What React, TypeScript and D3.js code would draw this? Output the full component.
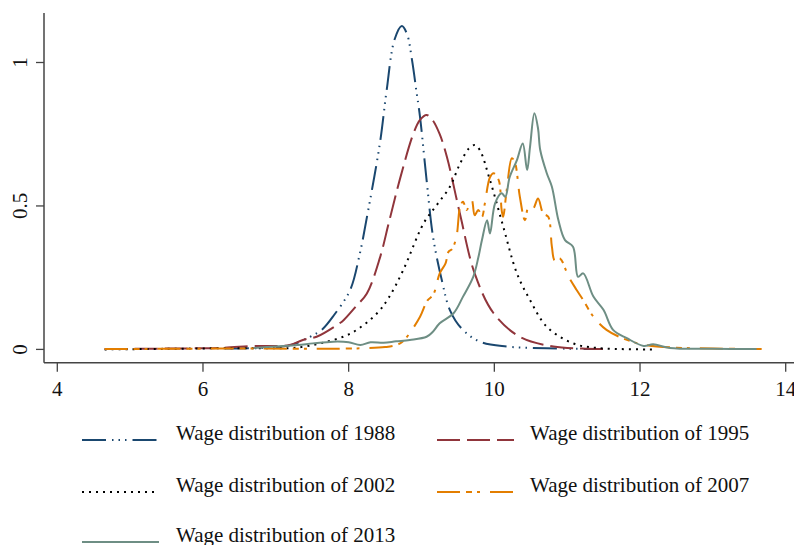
import React from "react";
import * as d3 from "d3";

type Pt = [number, number];

const xTicks = [4, 6, 8, 10, 12, 14];
const yTicks = [0, 0.5, 1];
const yTickLabels = ["0", "0.5", "1"];

const wage1988: Pt[] = [
  [6.3, 0.003], [6.9, 0.006], [7.2, 0.015], [7.47, 0.044], [7.63, 0.068], [7.8, 0.12],
  [8.02, 0.207], [8.15, 0.33], [8.25, 0.46], [8.43, 0.72], [8.52, 0.9], [8.63, 1.08],
  [8.73, 1.127], [8.8, 1.1], [8.87, 1.008], [8.93, 0.9], [8.98, 0.81], [9.07, 0.59],
  [9.16, 0.39], [9.28, 0.24], [9.39, 0.137], [9.55, 0.073], [9.8, 0.027], [10.17, 0.01],
  [10.72, 0.004], [11.45, 0.001],
];

const wage1995: Pt[] = [
  [4.65, 0.001], [5.5, 0.003], [6.2, 0.005], [6.74, 0.012], [7.0, 0.012], [7.19, 0.015],
  [7.37, 0.033], [7.56, 0.044], [7.84, 0.085], [7.93, 0.102], [8.1, 0.15], [8.25, 0.195],
  [8.43, 0.32], [8.55, 0.44], [8.7, 0.59], [8.89, 0.753], [8.98, 0.8], [9.07, 0.817],
  [9.15, 0.8], [9.25, 0.75], [9.35, 0.67], [9.53, 0.47], [9.73, 0.265], [9.99, 0.126],
  [10.35, 0.044], [10.81, 0.01], [11.2, 0.003], [11.5, 0.001],
];

const wage2002: Pt[] = [
  [4.65, 0.0], [5.5, 0.002], [6.3, 0.004], [7.0, 0.004], [7.24, 0.005], [7.61, 0.021],
  [8.03, 0.056], [8.39, 0.126], [8.55, 0.18], [8.75, 0.277], [9.03, 0.44], [9.2, 0.5],
  [9.39, 0.567], [9.53, 0.648], [9.65, 0.7], [9.73, 0.712], [9.8, 0.695], [9.94, 0.59],
  [10.12, 0.43], [10.31, 0.265], [10.49, 0.172], [10.72, 0.079], [11.08, 0.021],
  [11.41, 0.005], [12.23, 0.0],
];

const wage2007: Pt[] = [
  [4.65, 0.001], [5.5, 0.002], [6.5, 0.003], [7.5, 0.002], [8.0, 0.003], [8.2, 0.004],
  [8.5, 0.008], [8.7, 0.02], [8.8, 0.044], [8.98, 0.114], [9.08, 0.17], [9.16, 0.19],
  [9.25, 0.265], [9.33, 0.3], [9.37, 0.34], [9.42, 0.35], [9.48, 0.393], [9.53, 0.497],
  [9.57, 0.515], [9.62, 0.486],
  [9.69, 0.52], [9.73, 0.468], [9.78, 0.486], [9.83, 0.462], [9.87, 0.509], [9.94, 0.6],
  [9.99, 0.614], [10.06, 0.59], [10.1, 0.486], [10.12, 0.462], [10.17, 0.555], [10.24, 0.666],
  [10.28, 0.654], [10.35, 0.532], [10.42, 0.45], [10.47, 0.497], [10.53, 0.49], [10.6, 0.526],
  [10.67, 0.474], [10.74, 0.462], [10.79, 0.358], [10.83, 0.31], [10.9, 0.317], [11.02, 0.253],
  [11.13, 0.207], [11.22, 0.172], [11.36, 0.114], [11.54, 0.068], [11.82, 0.033], [12.09, 0.015],
  [12.5, 0.006], [13.0, 0.003], [13.67, 0.001],
];

const wage2013: Pt[] = [
  [6.7, 0.005], [7.0, 0.01], [7.3, 0.015], [7.51, 0.021], [7.79, 0.027], [8.0, 0.025],
  [8.16, 0.015], [8.3, 0.025], [8.48, 0.023], [8.65, 0.028], [8.84, 0.033], [9.07, 0.044],
  [9.15, 0.06], [9.25, 0.091], [9.44, 0.126], [9.57, 0.184], [9.71, 0.253], [9.78, 0.32],
  [9.83, 0.381], [9.9, 0.45], [9.94, 0.404], [10.01, 0.509], [10.1, 0.544], [10.15, 0.532],
  [10.21, 0.6], [10.31, 0.66], [10.39, 0.718], [10.45, 0.625], [10.49, 0.706], [10.55, 0.823],
  [10.6, 0.77], [10.63, 0.695], [10.72, 0.614], [10.79, 0.567], [10.88, 0.45], [10.97, 0.381],
  [11.08, 0.358], [11.15, 0.253], [11.22, 0.265], [11.36, 0.184], [11.5, 0.137], [11.63, 0.068],
  [11.82, 0.039], [12.05, 0.012], [12.18, 0.018], [12.41, 0.005], [13.0, 0.002], [13.6, 0.001],
];

const seriesNames = [
  "Wage distribution of 1988",
  "Wage distribution of 1995",
  "Wage distribution of 2002",
  "Wage distribution of 2007",
  "Wage distribution of 2013",
];
const seriesData = [wage1988, wage1995, wage2002, wage2007, wage2013];
const seriesColors = ["#1a476f", "#90353b", "#000000", "#e37e00", "#6e8e84"];
const seriesDash = ["24 6 1.5 5 1.5 5 1.5 6", "23 7", "2 5", "23 6 6 5 3 10", "none"];

const FONT = "'Liberation Serif', 'Times New Roman', serif";

export default function App() {
  const W = 794, H = 545;
  const x = d3.scaleLinear().domain([4, 14]).range([57.3, 785.7]);
  const y = d3.scaleLinear().domain([0, 1]).range([349.4, 62.5]);
  const axisX = 44;
  const axisY = 362.7;
  const line = d3
    .line<Pt>()
    .x((d) => x(d[0]))
    .y((d) => y(d[1]))
    .curve(d3.curveCatmullRom.alpha(0.5));

  const legendPos = [
    { lx: 82, tx: 176, ly: 440 },
    { lx: 437, tx: 530, ly: 440 },
    { lx: 82, tx: 176, ly: 492 },
    { lx: 437, tx: 530, ly: 492 },
    { lx: 82, tx: 176, ly: 542 },
  ];

  return (
    <svg
      width={W}
      height={H}
      style={{ position: "absolute", left: 0, top: 0, background: "#fff" }}
      fontFamily={FONT}
    >
      <rect width={W} height={H} fill="#fff" />
      {/* axes */}
      <line x1={axisX} x2={axisX} y1={13} y2={axisY} stroke="#444" strokeWidth={1.5} />
      <line x1={axisX} x2={W} y1={axisY} y2={axisY} stroke="#444" strokeWidth={1.5} />
      {yTicks.map((t, i) => (
        <g key={"yt" + i}>
          <line x1={axisX - 8} x2={axisX} y1={y(t)} y2={y(t)} stroke="#444" strokeWidth={1.3} />
          <text
            transform={`translate(27,${y(t)}) rotate(-90)`}
            textAnchor="middle"
            fontSize={21}
            fill="#111"
          >
            {yTickLabels[i]}
          </text>
        </g>
      ))}
      {xTicks.map((t) => (
        <g key={"xt" + t}>
          <line x1={x(t)} x2={x(t)} y1={axisY} y2={axisY + 9} stroke="#444" strokeWidth={1.3} />
          <text x={x(t)} y={396} textAnchor="middle" fontSize={21} fill="#111">
            {t}
          </text>
        </g>
      ))}
      {/* curves */}
      {seriesData.map((d, i) => (
        <path
          key={"s" + i}
          d={line(d) || ""}
          fill="none"
          stroke={seriesColors[i]}
          strokeWidth={2}
          strokeDasharray={seriesDash[i]}
          strokeLinejoin="round"
        />
      ))}
      {/* legend */}
      {seriesNames.map((n, i) => {
        const p = legendPos[i];
        return (
          <g key={"lg" + i}>
            <line
              x1={p.lx}
              x2={p.lx + 77}
              y1={p.ly}
              y2={p.ly}
              stroke={seriesColors[i]}
              strokeWidth={2}
              strokeDasharray={seriesDash[i]}
            />
            <text x={p.tx} y={p.ly} fontSize={21} fill="#111">
              {n}
            </text>
          </g>
        );
      })}
    </svg>
  );
}
